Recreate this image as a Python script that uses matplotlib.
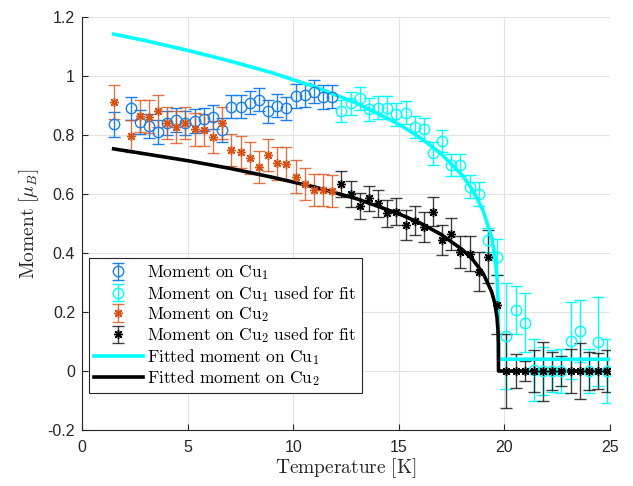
import matplotlib
matplotlib.use('Agg')
import matplotlib.pyplot as plt
from matplotlib.ticker import FuncFormatter

plt.rcParams['font.family'] = ['Liberation Sans', 'DejaVu Sans']
plt.rcParams['mathtext.fontset'] = 'cm'
plt.rcParams['axes.unicode_minus'] = False

# Temperatures (K)
T_low = [1.50, 2.30, 2.73, 3.17, 3.60, 4.04, 4.47, 4.90, 5.34, 5.77, 6.21, 6.64,
         7.07, 7.51, 7.94, 8.38, 8.81, 9.24, 9.68, 10.11, 10.55, 10.98, 11.41, 11.85]
T_high = [12.28, 12.72, 13.15, 13.58, 14.02, 14.45, 14.89, 15.32, 15.75, 16.19,
          16.62, 17.06, 17.49, 17.92, 18.36, 18.79, 19.22, 19.66, 20.09, 20.53,
          20.96, 21.39, 21.83, 22.26, 22.70, 23.13, 23.56, 24.00, 24.43, 24.87]

# Cu1 moments
M_cu1 = [0.836, 0.890, 0.845, 0.830, 0.810, 0.840, 0.850, 0.840, 0.847, 0.853, 0.862, 0.817,
         0.896, 0.896, 0.910, 0.920, 0.880, 0.900, 0.890, 0.932, 0.935, 0.947, 0.928, 0.930]
E_cu1 = [0.043, 0.040, 0.040, 0.040, 0.040, 0.040, 0.040, 0.040, 0.040, 0.040, 0.040, 0.040,
         0.040, 0.040, 0.040, 0.040, 0.040, 0.040, 0.040, 0.040, 0.040, 0.040, 0.040, 0.040]
M_cu1_fit = [0.882, 0.907, 0.924, 0.887, 0.893, 0.893, 0.870, 0.876, 0.828, 0.819,
             0.738, 0.780, 0.698, 0.698, 0.625, 0.600, 0.444, 0.386, 0.119, 0.207,
             0.164, 0.003, 0.000, 0.000, 0.000, 0.103, 0.137, 0.000, 0.100, 0.000]
E_cu1_fit = [0.038, 0.038, 0.038, 0.038, 0.038, 0.038, 0.038, 0.038, 0.038, 0.038,
             0.038, 0.038, 0.038, 0.038, 0.038, 0.040, 0.040, 0.060, 0.180, 0.080,
             0.100, 0.105, 0.080, 0.070, 0.075, 0.130, 0.105, 0.075, 0.150, 0.108]

# Cu2 moments
M_cu2 = [0.913, 0.797, 0.864, 0.862, 0.882, 0.840, 0.828, 0.840, 0.819, 0.817, 0.794, 0.840,
         0.749, 0.742, 0.722, 0.691, 0.732, 0.704, 0.703, 0.659, 0.634, 0.614, 0.613, 0.611]
E_cu2 = [0.058, 0.055, 0.055, 0.055, 0.055, 0.055, 0.055, 0.055, 0.055, 0.055, 0.055, 0.055,
         0.055, 0.055, 0.055, 0.055, 0.055, 0.055, 0.055, 0.055, 0.055, 0.055, 0.055, 0.055]
M_cu2_fit = [0.634, 0.600, 0.559, 0.585, 0.568, 0.534, 0.540, 0.495, 0.510, 0.489,
             0.540, 0.444, 0.464, 0.404, 0.398, 0.337, 0.388, 0.224, 0.000, 0.000,
             0.000, 0.000, 0.000, 0.000, 0.000, 0.000, 0.000, 0.000, 0.000, 0.000]
E_cu2_fit = [0.043, 0.043, 0.043, 0.043, 0.045, 0.045, 0.045, 0.050, 0.050, 0.050,
             0.050, 0.050, 0.054, 0.055, 0.060, 0.065, 0.090, 0.100, 0.127, 0.058,
             0.035, 0.070, 0.100, 0.065, 0.050, 0.075, 0.095, 0.065, 0.060, 0.070]

# Fitted curves
T_fit = [1.5, 3, 5, 7, 9, 11, 13, 15, 16, 17, 18, 18.5, 19, 19.4, 19.55, 19.65,
         19.70, 19.715, 19.72, 25]
M_fit1 = [1.142, 1.120, 1.087, 1.051, 1.011, 0.964, 0.908, 0.837, 0.792, 0.737,
          0.664, 0.613, 0.543, 0.451, 0.390, 0.318, 0.238, 0.173, 0.040, 0.040]
M_fit2 = [0.753, 0.736, 0.713, 0.687, 0.657, 0.624, 0.584, 0.533, 0.502, 0.463,
          0.412, 0.378, 0.330, 0.268, 0.228, 0.182, 0.132, 0.093, 0.000, 0.000]

blue = '#1a7fe8'
orange = '#d95319'
cyan = '#00ffff'

fig = plt.figure(figsize=(6.33, 4.86), dpi=100)
ax = fig.add_axes([0.1295, 0.1152, 0.8342, 0.8498])

ast = (8, 2, 0)
eb_kw = dict(elinewidth=1.0, capsize=4.5, capthick=1.0, linestyle='none')

h1 = ax.errorbar(T_low, M_cu1, yerr=E_cu1, marker='o', ms=7.5, mfc='none', mec=blue, mew=1.0,
                 ecolor=blue, label=r'$\mathrm{Moment\ on\ Cu}_1$', **eb_kw)
h2 = ax.errorbar(T_high, M_cu1_fit, yerr=E_cu1_fit, marker='o', ms=7.5, mfc='none', mec=cyan, mew=1.0,
                 ecolor=cyan, label=r'$\mathrm{Moment\ on\ Cu}_1\mathrm{\ used\ for\ fit}$', **eb_kw)
h3 = ax.errorbar(T_low, M_cu2, yerr=E_cu2, marker=ast, ms=6.5, mfc=orange, mec=orange, mew=1.0,
                 ecolor=(0.85, 0.33, 0.10, 0.8), label=r'$\mathrm{Moment\ on\ Cu}_2$', **eb_kw)
h4 = ax.errorbar(T_high, M_cu2_fit, yerr=E_cu2_fit, marker=ast, ms=6.5, mfc='black', mec='black', mew=1.0,
                 ecolor=(0, 0, 0, 0.75), label=r'$\mathrm{Moment\ on\ Cu}_2\mathrm{\ used\ for\ fit}$', **eb_kw)
h5, = ax.plot(T_fit, M_fit1, color=cyan, lw=2.6, label=r'$\mathrm{Fitted\ moment\ on\ Cu}_1$')
h6, = ax.plot(T_fit, M_fit2, color='black', lw=2.6, label=r'$\mathrm{Fitted\ moment\ on\ Cu}_2$')

ax.set_xlim(0, 25)
ax.set_ylim(-0.2, 1.2)
ax.set_xticks([0, 5, 10, 15, 20, 25])
ax.set_yticks([-0.2, 0, 0.2, 0.4, 0.6, 0.8, 1.0, 1.2])
ax.yaxis.set_major_formatter(FuncFormatter(lambda v, p: '%g' % round(v, 6)))

ax.grid(True, color='#e3e3e3', lw=0.8)
ax.set_axisbelow(True)
for s in ['top', 'right']:
    ax.spines[s].set_visible(False)
for s in ['left', 'bottom']:
    ax.spines[s].set_color('#262626')
    ax.spines[s].set_linewidth(0.8)
ax.tick_params(direction='in', length=4, width=0.8, colors='#262626', labelsize=11.5)
ax.tick_params(axis='x', pad=7)
ax.tick_params(axis='y', pad=5)

ax.set_xlabel(r'$\mathrm{Temperature\ [K]}$', fontsize=14, color='#262626', labelpad=1)
ax.set_ylabel(r'$\mathrm{Moment\ }[\mu_B]$', fontsize=14, color='#262626', labelpad=5)

handles = [h1, h2, h3, h4, h5, h6]
labels = [h.get_label() for h in handles]
leg = ax.legend(handles, labels, loc='lower left', bbox_to_anchor=(0.013, 0.089), borderaxespad=0,
                fontsize=12.5, frameon=True, fancybox=False, framealpha=1,
                edgecolor='#262626', handlelength=2.8, handletextpad=0.25,
                labelspacing=0.08, borderpad=0.3)
leg.get_frame().set_linewidth(0.8)

fig.savefig('out.png', dpi=100)
